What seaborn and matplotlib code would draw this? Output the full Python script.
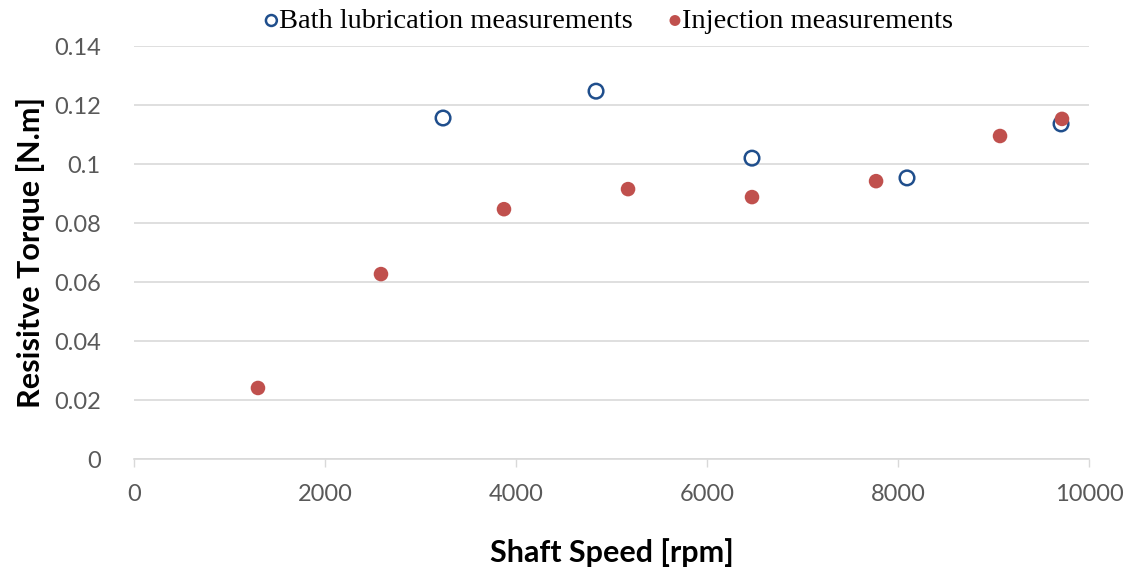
import pandas as pd
import matplotlib.pyplot as plt
import seaborn as sns

# valores
bath_speed = [3236, 4838, 6471, 8094, 9707]
bath_torque = [0.1156, 0.1247, 0.1020, 0.0953, 0.1136]
inj_speed = [1298, 2586, 3874, 5173, 6471, 7770, 9068, 9717]
inj_torque = [0.0241, 0.0627, 0.0847, 0.0915, 0.0888, 0.0942, 0.1095, 0.1153]

x_ticks = [0, 2000, 4000, 6000, 8000, 10000]
y_ticks = [0, 0.02, 0.04, 0.06, 0.08, 0.1, 0.12, 0.14]
y_tick_labels = ['0', '0.02', '0.04', '0.06', '0.08', '0.1', '0.12', '0.14']

BLUE = '#1f4e8c'
RED = '#c0504d'
GREY = '#595959'

def plot_torque():
    sns.set_theme(style='white')
    plt.rcParams['font.family'] = ['Lato', 'DejaVu Sans']

    bath = pd.DataFrame({'speed': bath_speed, 'torque': bath_torque})
    inj = pd.DataFrame({'speed': inj_speed, 'torque': inj_torque})

    fig = plt.figure(figsize=(11.29, 5.71), dpi=100)
    ax = fig.add_axes([0.1187, 0.196, 0.8459, 0.7234])

    ax.grid(axis='y', color='#d9d9d9', linewidth=1.2)
    ax.set_axisbelow(True)

    sns.scatterplot(data=bath, x='speed', y='torque', ax=ax, s=110,
                    facecolor='none', edgecolor=BLUE, linewidth=1.8,
                    label='Bath lubrication measurements', zorder=3)
    sns.scatterplot(data=inj, x='speed', y='torque', ax=ax, s=110,
                    color=RED, edgecolor='none',
                    label='Injection measurements', zorder=4)

    ax.set_xlim(0, 10000)
    ax.set_ylim(0, 0.14)
    ax.set_xticks(x_ticks)
    ax.set_xticklabels([str(t) for t in x_ticks], fontsize=17, color=GREY)
    ax.set_yticks(y_ticks)
    ax.set_yticklabels(y_tick_labels, fontsize=17, color=GREY)
    ax.tick_params(axis='x', direction='out', length=6, width=1,
                   color='#d9d9d9', pad=12, bottom=True)
    ax.tick_params(axis='y', length=0, pad=24)

    for side in ['left', 'right', 'top']:
        ax.spines[side].set_visible(False)
    ax.spines['bottom'].set_color('#d9d9d9')
    ax.spines['bottom'].set_linewidth(1.2)

    ax.set_xlabel('Shaft Speed [rpm]', fontsize=22, fontweight='bold',
                  color='black', labelpad=24)
    ax.set_ylabel('Resisitve Torque [N.m]', fontsize=22, fontweight='bold',
                  color='black', labelpad=6)

    handles, labels = ax.get_legend_handles_labels()
    ax.get_legend().remove()
    leg = fig.legend(handles, labels, loc='center',
                     bbox_to_anchor=(598 / 1129, 1 - 21 / 571), ncol=2,
                     frameon=False, markerscale=0.75, handletextpad=-0.75,
                     columnspacing=0.5, borderaxespad=0,
                     prop={'family': 'Liberation Serif', 'size': 20.5})
    for txt in leg.get_texts():
        txt.set_color('black')

    fig.savefig('out.png', dpi=100)
    plt.close(fig)

if __name__ == "__main__":
    plot_torque()
